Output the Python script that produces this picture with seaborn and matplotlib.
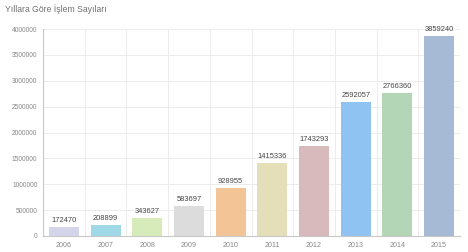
import matplotlib
matplotlib.use("Agg")
import matplotlib.pyplot as plt
import seaborn as sns
import pandas as pd
import numpy as np

years = ["2006", "2007", "2008", "2009", "2010", "2011", "2012", "2013", "2014", "2015"]
counts = [172470, 208899, 343627, 583697, 928955, 1415336, 1743293, 2592057, 2766360, 3859240]
colors = ["#d4d4ea", "#9fd8e6", "#d6ebb9", "#dcdcdc", "#f2c496",
          "#e4dfb9", "#d8babc", "#8fc3f2", "#b2d6b6", "#a6bad6"]
title = "Yıllara Göre İşlem Sayıları"
yticks = [0, 500000, 1000000, 1500000, 2000000, 2500000, 3000000, 3500000, 4000000]

df = pd.DataFrame({"year": years, "count": counts})

sns.set_theme(style="white")
plt.rcParams["font.family"] = ["Liberation Sans", "DejaVu Sans"]

fig = plt.figure(figsize=(4.68, 2.52), dpi=100)
ax = fig.add_axes([43 / 468, 16 / 252, (460 - 43) / 468, (236 - 29) / 252])

sns.barplot(data=df, x="year", y="count", hue="year", palette=colors,
            legend=False, width=0.72, ax=ax, saturation=1, edgecolor="none")

ax.set_ylim(0, 4000000)
ax.set_xlim(-0.5, len(years) - 0.5)
ax.set_yticks(yticks)
ax.set_yticklabels([str(v) for v in yticks])
ax.set_xlabel("")
ax.set_ylabel("")

# grid: horizontal at y ticks, vertical at category boundaries
ax.set_xticks(np.arange(-0.5, len(years), 1.0), minor=True)
ax.grid(axis="y", which="major", color="#ececec", linewidth=0.7)
ax.grid(axis="x", which="minor", color="#ececec", linewidth=0.7)
ax.set_axisbelow(True)

for s in ["top", "right"]:
    ax.spines[s].set_visible(False)
for s in ["left", "bottom"]:
    ax.spines[s].set_color("#c8c8c8")
    ax.spines[s].set_linewidth(0.8)

ax.tick_params(axis="y", labelsize=4.8, colors="#888888", length=2, width=0.6, pad=2)
ax.tick_params(axis="x", which="major", labelsize=5.1, colors="#888888", length=0, pad=4)
ax.tick_params(axis="x", which="minor", length=0)

for i, v in enumerate(counts):
    ax.text(i, v + 60000, str(v), ha="center", va="bottom",
            fontsize=5.4, color="#444444")

fig.text(5 / 468, 1 - 9 / 252, title, ha="left", va="center",
         fontsize=6.2, color="#707070")

fig.savefig("out.png", dpi=100, facecolor="white")
